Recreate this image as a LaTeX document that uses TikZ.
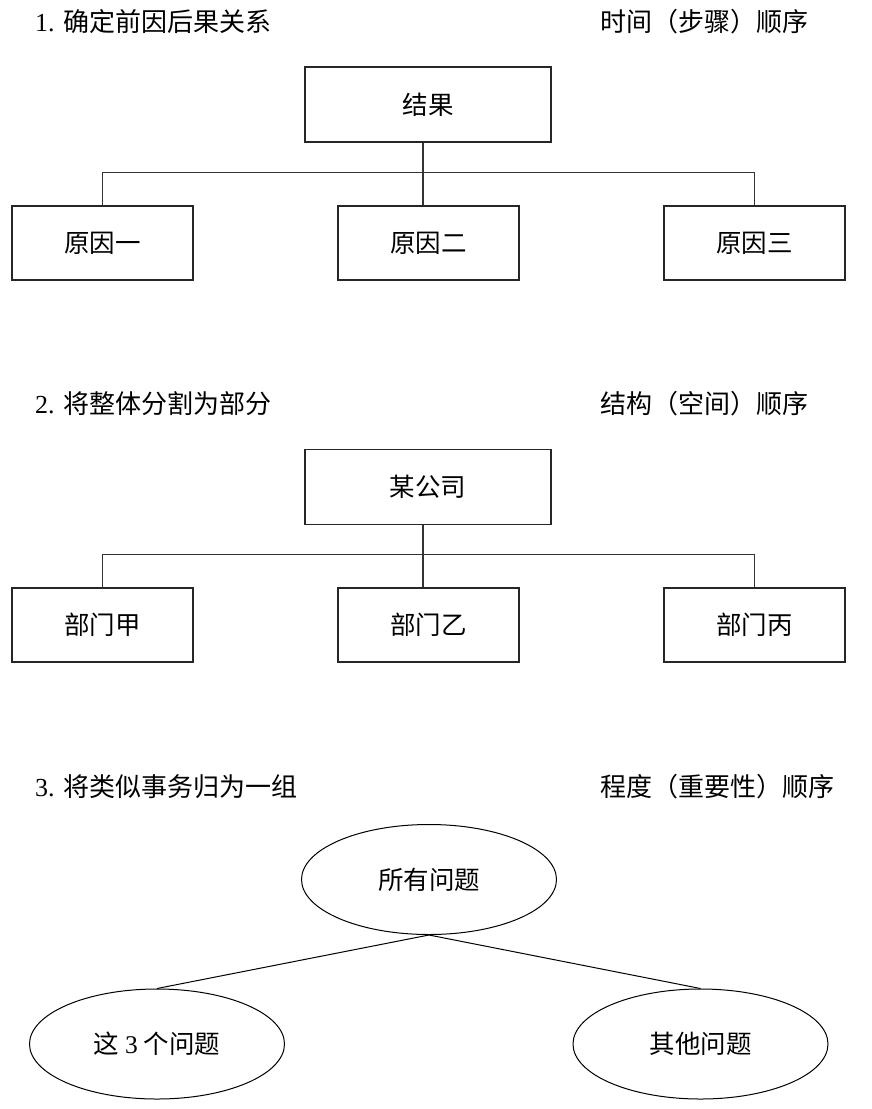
\documentclass[tikz,border=0pt]{standalone}
\usepackage{fontspec}
\setmainfont{Liberation Serif}
\newfontfamily\cjk{Noto Sans CJK SC}
\usetikzlibrary{shapes.geometric}
\tikzset{
  boxnode/.style={draw=black!85, line width=1.3pt, inner sep=0pt, font=\fontsize{25.5}{30}\selectfont\cjk},
  smallbox/.style={boxnode, minimum width=181pt, minimum height=74pt},
  topbox/.style={boxnode, minimum width=246pt, minimum height=75pt},
  ovalnode/.style={ellipse, draw=black, line width=1pt, inner sep=0pt, minimum width=255pt, minimum height=110pt, font=\fontsize{25.5}{30}\selectfont\cjk},
  conn/.style={draw=black!80, line width=1.1pt},
  conn2/.style={draw=black, line width=1pt},
  title/.style={anchor=west, inner sep=0pt, font=\fontsize{26}{30}\selectfont}
}
\begin{document}
\begin{tikzpicture}[x=1pt, y=-1pt]
\useasboundingbox (0,0) rectangle (871,1109);
% Section 1
\node[title] (t1) at (35,22) {1. {\cjk 确定前因后果关系}};
\node[title] (s1) at (600,22) {\cjk 时间（步骤）顺序};
\node[topbox] (r) at (428,104.5) {结果};
\node[smallbox] (c1) at (102.5,243) {原因一};
\node[smallbox] (c2) at (428.5,243) {原因二};
\node[smallbox] (c3) at (754.5,243) {原因三};
\coordinate (j1) at (423,172.5);
\draw[conn] (j1 |- r.south) -- (j1 |- c2.north);
\draw[conn] (c1.north) |- (c3.north |- j1) -- (c3.north);
% Section 2
\node[title] (t2) at (35,404) {2. {\cjk 将整体分割为部分}};
\node[title] (s2) at (600,404) {\cjk 结构（空间）顺序};
\node[topbox] (co) at (428,487) {某公司};
\node[smallbox] (d1) at (102.5,625) {部门甲};
\node[smallbox] (d2) at (428.5,625) {部门乙};
\node[smallbox] (d3) at (754.5,625) {部门丙};
\coordinate (j2) at (423,554.5);
\draw[conn] (j2 |- co.south) -- (j2 |- d2.north);
\draw[conn] (d1.north) |- (d3.north |- j2) -- (d3.north);
% Section 3
\node[title] (t3) at (35,787) {3. {\cjk 将类似事务归为一组}};
\node[title] (s3) at (600,787) {\cjk 程度（重要性）顺序};
\node[ovalnode] (all) at (429,879.5) {所有问题};
\node[ovalnode] (three) at (157,1044) {这 {\rmfamily 3} 个问题};
\node[ovalnode] (other) at (700.5,1044) {其他问题};
\draw[conn2] (three.north) -- (all.south) -- (other.north);
\end{tikzpicture}
\end{document}
